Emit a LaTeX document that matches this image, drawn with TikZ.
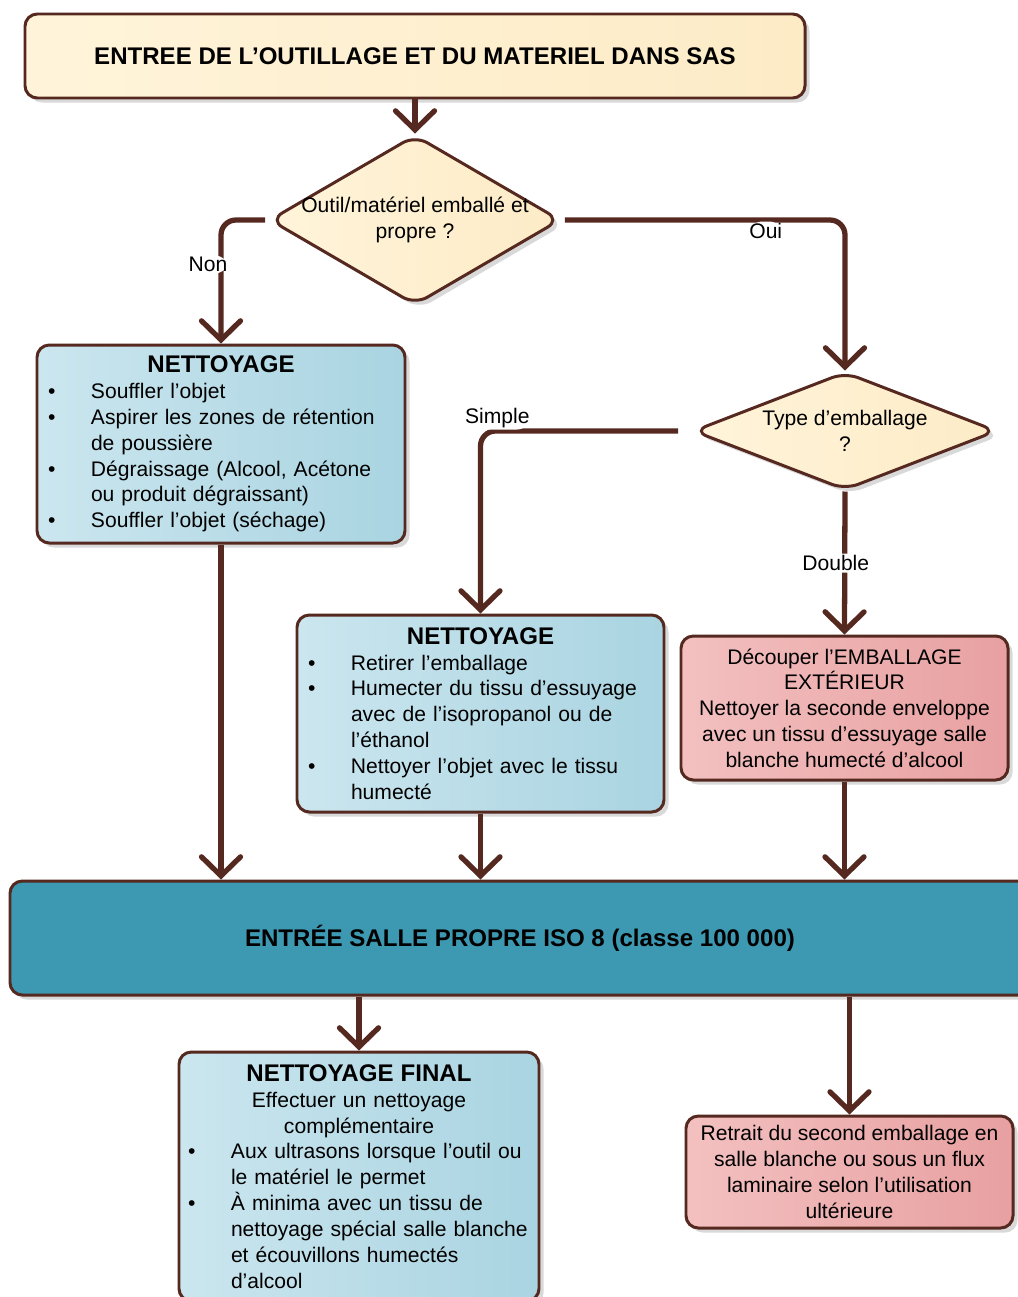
\documentclass[tikz,border=0pt]{standalone}
\usepackage{fontspec}
\setmainfont{Liberation Sans}
\usetikzlibrary{shapes.geometric, arrows.meta, shadows}

\definecolor{brun}{HTML}{55291F}
\definecolor{cremeA}{HTML}{FFF4DA}
\definecolor{cremeB}{HTML}{FDEBC6}
\definecolor{bleuA}{HTML}{CBE6EF}
\definecolor{bleuB}{HTML}{A9D4E1}
\definecolor{rougeA}{HTML}{F3C0C0}
\definecolor{rougeB}{HTML}{E8A0A1}
\definecolor{sarcelle}{HTML}{3D98B2}

\newlength{\retrait}
\setlength{\retrait}{0.86cm}
\newcommand{\titre}[1]{{\centering\bfseries\fontsize{13.7}{16}\selectfont #1\par}}
\newcommand{\puce}[1]{\par\hangindent=\retrait\hangafter=1\noindent\makebox[\retrait][l]{\textbullet}#1\par}

\begin{document}
\begin{tikzpicture}[font=\fontsize{12}{14.7}\selectfont]
        \tikzstyle{boite}=[draw=brun, line width=1.7pt, rounded corners=7pt, inner sep=0pt,
            drop shadow={shadow xshift=0.09cm, shadow yshift=-0.09cm, opacity=0.3}];
        \tikzstyle{haut}=[boite, left color=cremeA, right color=cremeB, font=\bfseries\fontsize{13.7}{16}\selectfont];
        \tikzstyle{bleu}=[boite, left color=bleuA, right color=bleuB, align=left];
        \tikzstyle{rouge}=[boite, left color=rougeA, right color=rougeB, align=center];
        \tikzstyle{losange}=[diamond, draw=brun, line width=1.7pt, rounded corners=8pt, inner sep=0pt,
            left color=cremeA, right color=cremeB,
            drop shadow={shadow xshift=0.09cm, shadow yshift=-0.09cm, opacity=0.3}];
        \tikzstyle{fleche}=[draw=brun, line width=3pt, rounded corners=0.3cm,
            -{Straight Barb[length=0.38cm, width=0.78cm, line cap=round]}];
        \tikzstyle{etiq}=[fill=white, inner sep=1pt];

        \useasboundingbox (0,0) rectangle (20.34,-25.94);

        \node[haut, minimum width=15.6cm, minimum height=1.68cm] (entree) at (8.30,-1.12)
            {ENTREE DE L’OUTILLAGE ET DU MATERIEL DANS SAS};

        \node[losange, minimum width=5.82cm, minimum height=3.40cm] (d1) at (8.30,-4.40) {};
        \node[align=center] (q1) at (d1) {Outil/matériel emballé et\\propre ?};

        \node[losange, minimum width=6.08cm, minimum height=2.36cm] (d2) at (16.90,-8.62) {};
        \node[align=center] (q2) at (d2) {Type d’emballage\\?};

        \node[bleu, minimum width=7.36cm, minimum height=3.96cm, text width=6.92cm] (n1) at (4.42,-8.88) {
            \titre{NETTOYAGE}
            \puce{Souffler l’objet}
            \puce{Aspirer les zones de rétention\newline de poussière}
            \puce{Dégraissage (Alcool, Acétone\newline ou produit dégraissant)}
            \puce{Souffler l’objet (séchage)}};

        \node[bleu, minimum width=7.34cm, minimum height=3.94cm, text width=6.90cm] (n2) at (9.61,-14.27) {
            \titre{NETTOYAGE}
            \puce{Retirer l’emballage}
            \puce{Humecter du tissu d’essuyage\newline avec de l’isopropanol ou de\newline l’éthanol}
            \puce{Nettoyer l’objet avec le tissu\newline humecté}};

        \node[rouge, minimum width=6.54cm, minimum height=2.88cm] (r1) at (16.89,-14.16)
            {Découper l’EMBALLAGE\\EXTÉRIEUR\\Nettoyer la seconde enveloppe\\avec un tissu d’essuyage salle\\blanche humecté d’alcool};

        \node[boite, fill=sarcelle, minimum width=20.4cm, minimum height=2.28cm,
            font=\bfseries\fontsize{13.7}{16}\selectfont] (salle) at (10.40,-18.76)
            {ENTRÉE SALLE PROPRE ISO 8 (classe 100 000)};

        \node[bleu, minimum width=7.20cm, minimum height=4.98cm, text width=6.84cm] (final) at (7.18,-23.53) {
            \titre{NETTOYAGE FINAL}
            {\centering Effectuer un nettoyage\\complémentaire\par}
            \puce{Aux ultrasons lorsque l’outil ou\newline le matériel le permet}
            \puce{À minima avec un tissu de\newline nettoyage spécial salle blanche\newline et écouvillons humectés\newline d’alcool}};

        \node[rouge, minimum width=6.54cm, minimum height=2.24cm] (r2) at (16.99,-23.44)
            {Retrait du second emballage en\\salle blanche ou sous un flux\\laminaire selon l’utilisation\\ultérieure};

        \draw[fleche] (entree.south) -- (d1.north);
        \draw[fleche, shorten <=0.06cm] (d1.west) -| (n1.north)
            node[etiq, pos=0.68, xshift=-0.26cm] (non) {Non};
        \draw[fleche, shorten <=0.06cm] (d1.east) -| (d2.north)
            node[etiq, pos=0.36, yshift=-0.22cm] (oui) {Oui};
        \draw[fleche, shorten <=0.27cm] (d2.west) -| (n2.north)
            node[etiq, pos=0.46, yshift=0.26cm] (simple) {Simple};
        \draw[fleche] (d2.south) -- (r1.north)
            node[etiq, midway, xshift=-0.18cm] (double) {Double};
        \draw[fleche] (n1.south) -- (n1.south |- salle.north);
        \draw[fleche] (n2.south) -- (n2.south |- salle.north);
        \draw[fleche] (r1.south) -- (r1.south |- salle.north);
        \draw[fleche] (salle.south -| final.north) -- (final.north);
        \draw[fleche] (salle.south -| r2.north) -- (r2.north);
    \end{tikzpicture}
\end{document}
